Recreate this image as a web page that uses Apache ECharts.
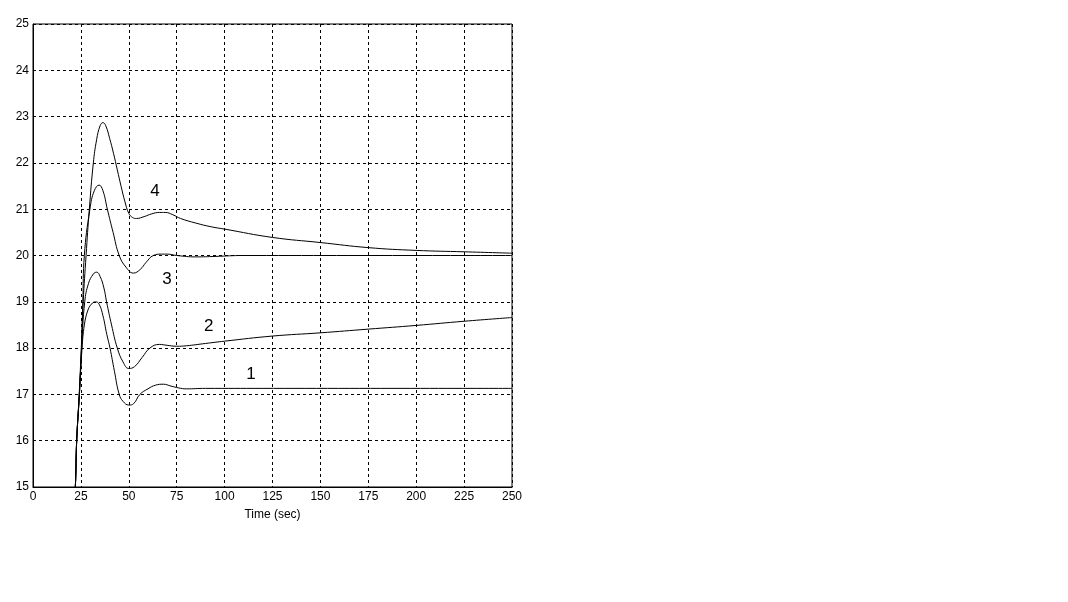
<!DOCTYPE html>
<html><head><meta charset="utf-8">
<script src="https://cdn.jsdelivr.net/npm/echarts@6/dist/echarts.min.js"></script>
<style>html,body{margin:0;padding:0;background:#fff}#c{width:1068px;height:602px}</style>
</head><body><div id="c"></div>
<script>
const xTicks = [0,25,50,75,100,125,150,175,200,225,250];
const yTicks = [15,16,17,18,19,20,21,22,23,24,25];
const xLabel = 'Time (sec)';
const curve1 = [[21,14.3],[22.1,15],[22.8,16],[24.2,17],[25.6,18],[26.8,18.5],[28.5,18.8],[30.5,18.95],[32.7,19.0],[34.5,18.95],[36.5,18.7],[38.5,18.3],[40.2,18],[42.5,17.5],[45,17],[47,16.85],[50,16.77],[52.5,16.8],[55.8,17],[60,17.12],[64,17.2],[68,17.22],[72,17.18],[76,17.14],[80,17.12],[90,17.13],[120,17.13],[250,17.13]];
const curve2 = [[21,14.3],[22.1,15],[22.8,16],[24.2,17],[25.4,18],[27,19],[29,19.4],[31.5,19.6],[33.2,19.64],[35,19.55],[37,19.3],[38.4,19],[41,18.5],[44,18],[47,17.7],[50,17.56],[53,17.6],[57,17.8],[61,18],[66,18.08],[70,18.06],[75,18.04],[80,18.05],[90,18.1],[100,18.15],[125,18.26],[150,18.33],[175,18.41],[200,18.49],[225,18.58],[250,18.66]];
const curve3 = [[21,14.3],[22.1,15],[22.8,16],[24.2,17],[25.3,18],[26,19],[26.8,20],[29.7,21],[32,21.4],[34.5,21.52],[36.5,21.4],[38.8,21],[41.8,20.5],[45,20],[48.5,19.75],[52.4,19.62],[56,19.7],[59,19.85],[62.8,20],[67,20.03],[70,20.03],[75,20],[85,19.97],[95,19.98],[110,20],[250,20]];
const curve4 = [[21,14.3],[22.1,15],[22.8,16],[24.1,17],[25.2,18],[26.2,19],[27.7,20],[29.4,21],[31.5,22],[33.2,22.5],[35,22.8],[36.5,22.87],[38,22.8],[40,22.53],[42,22.21],[44,21.85],[46,21.49],[48,21.16],[50,20.91],[52,20.82],[54,20.8],[58,20.84],[62,20.9],[66,20.93],[69,20.93],[73,20.88],[77,20.8],[85,20.7],[93,20.62],[100,20.57],[125,20.39],[150,20.28],[175,20.17],[200,20.11],[225,20.08],[250,20.05]];
const curveNames = ['1','2','3','4'];
const labelPos = [[113.8,17.44],[91.7,18.47],[69.9,19.49],[63.7,21.39]];

const chart = echarts.init(document.getElementById('c'));
const font = 'Liberation Sans, Arial, sans-serif';
const curves = [curve1, curve2, curve3, curve4];
const series = curves.map((d, i) => ({
  type: 'line', data: d, smooth: 0.45, showSymbol: false, symbol: 'none',
  lineStyle: {color: '#000', width: 1}, clip: true, animation: false, z: 3
}));
series.push({
  type: 'scatter', symbolSize: 0, animation: false,
  itemStyle: {color: '#000', opacity: 1},
  data: labelPos.map((p, i) => ({value: p, name: curveNames[i]})),
  label: {show: true, position: 'inside', formatter: p => p.name, color: '#000', opacity: 1, textBorderWidth: 0, fontSize: 17, fontFamily: font}
});
chart.setOption({
  backgroundColor: '#fff',
  animation: false,
  grid: {left: 33, top: 24, width: 479, height: 463, show: true, borderColor: '#000', borderWidth: 1, backgroundColor: '#fff'},
  xAxis: {
    type: 'value', min: 0, max: 250, interval: 25,
    name: xLabel, nameLocation: 'middle', nameGap: 22,
    nameTextStyle: {color: '#000', fontSize: 12, fontFamily: font},
    axisLine: {lineStyle: {color: '#000'}},
    axisTick: {show: false},
    axisLabel: {color: '#000', fontSize: 12, fontFamily: font, margin: 4, formatter: v => xTicks.includes(v) ? String(v) : ''},
    splitLine: {show: true, lineStyle: {color: '#000', type: [3,3], width: 1}}
  },
  yAxis: {
    type: 'value', min: 15, max: 25, interval: 1,
    axisLine: {show: true, lineStyle: {color: '#000'}},
    axisTick: {show: false},
    axisLabel: {color: '#000', fontSize: 12, fontFamily: font, margin: 4, formatter: v => yTicks.includes(v) ? String(v) : ''},
    splitLine: {show: true, lineStyle: {color: '#000', type: [3,3], width: 1}}
  },
  series: series
});
</script></body></html>
